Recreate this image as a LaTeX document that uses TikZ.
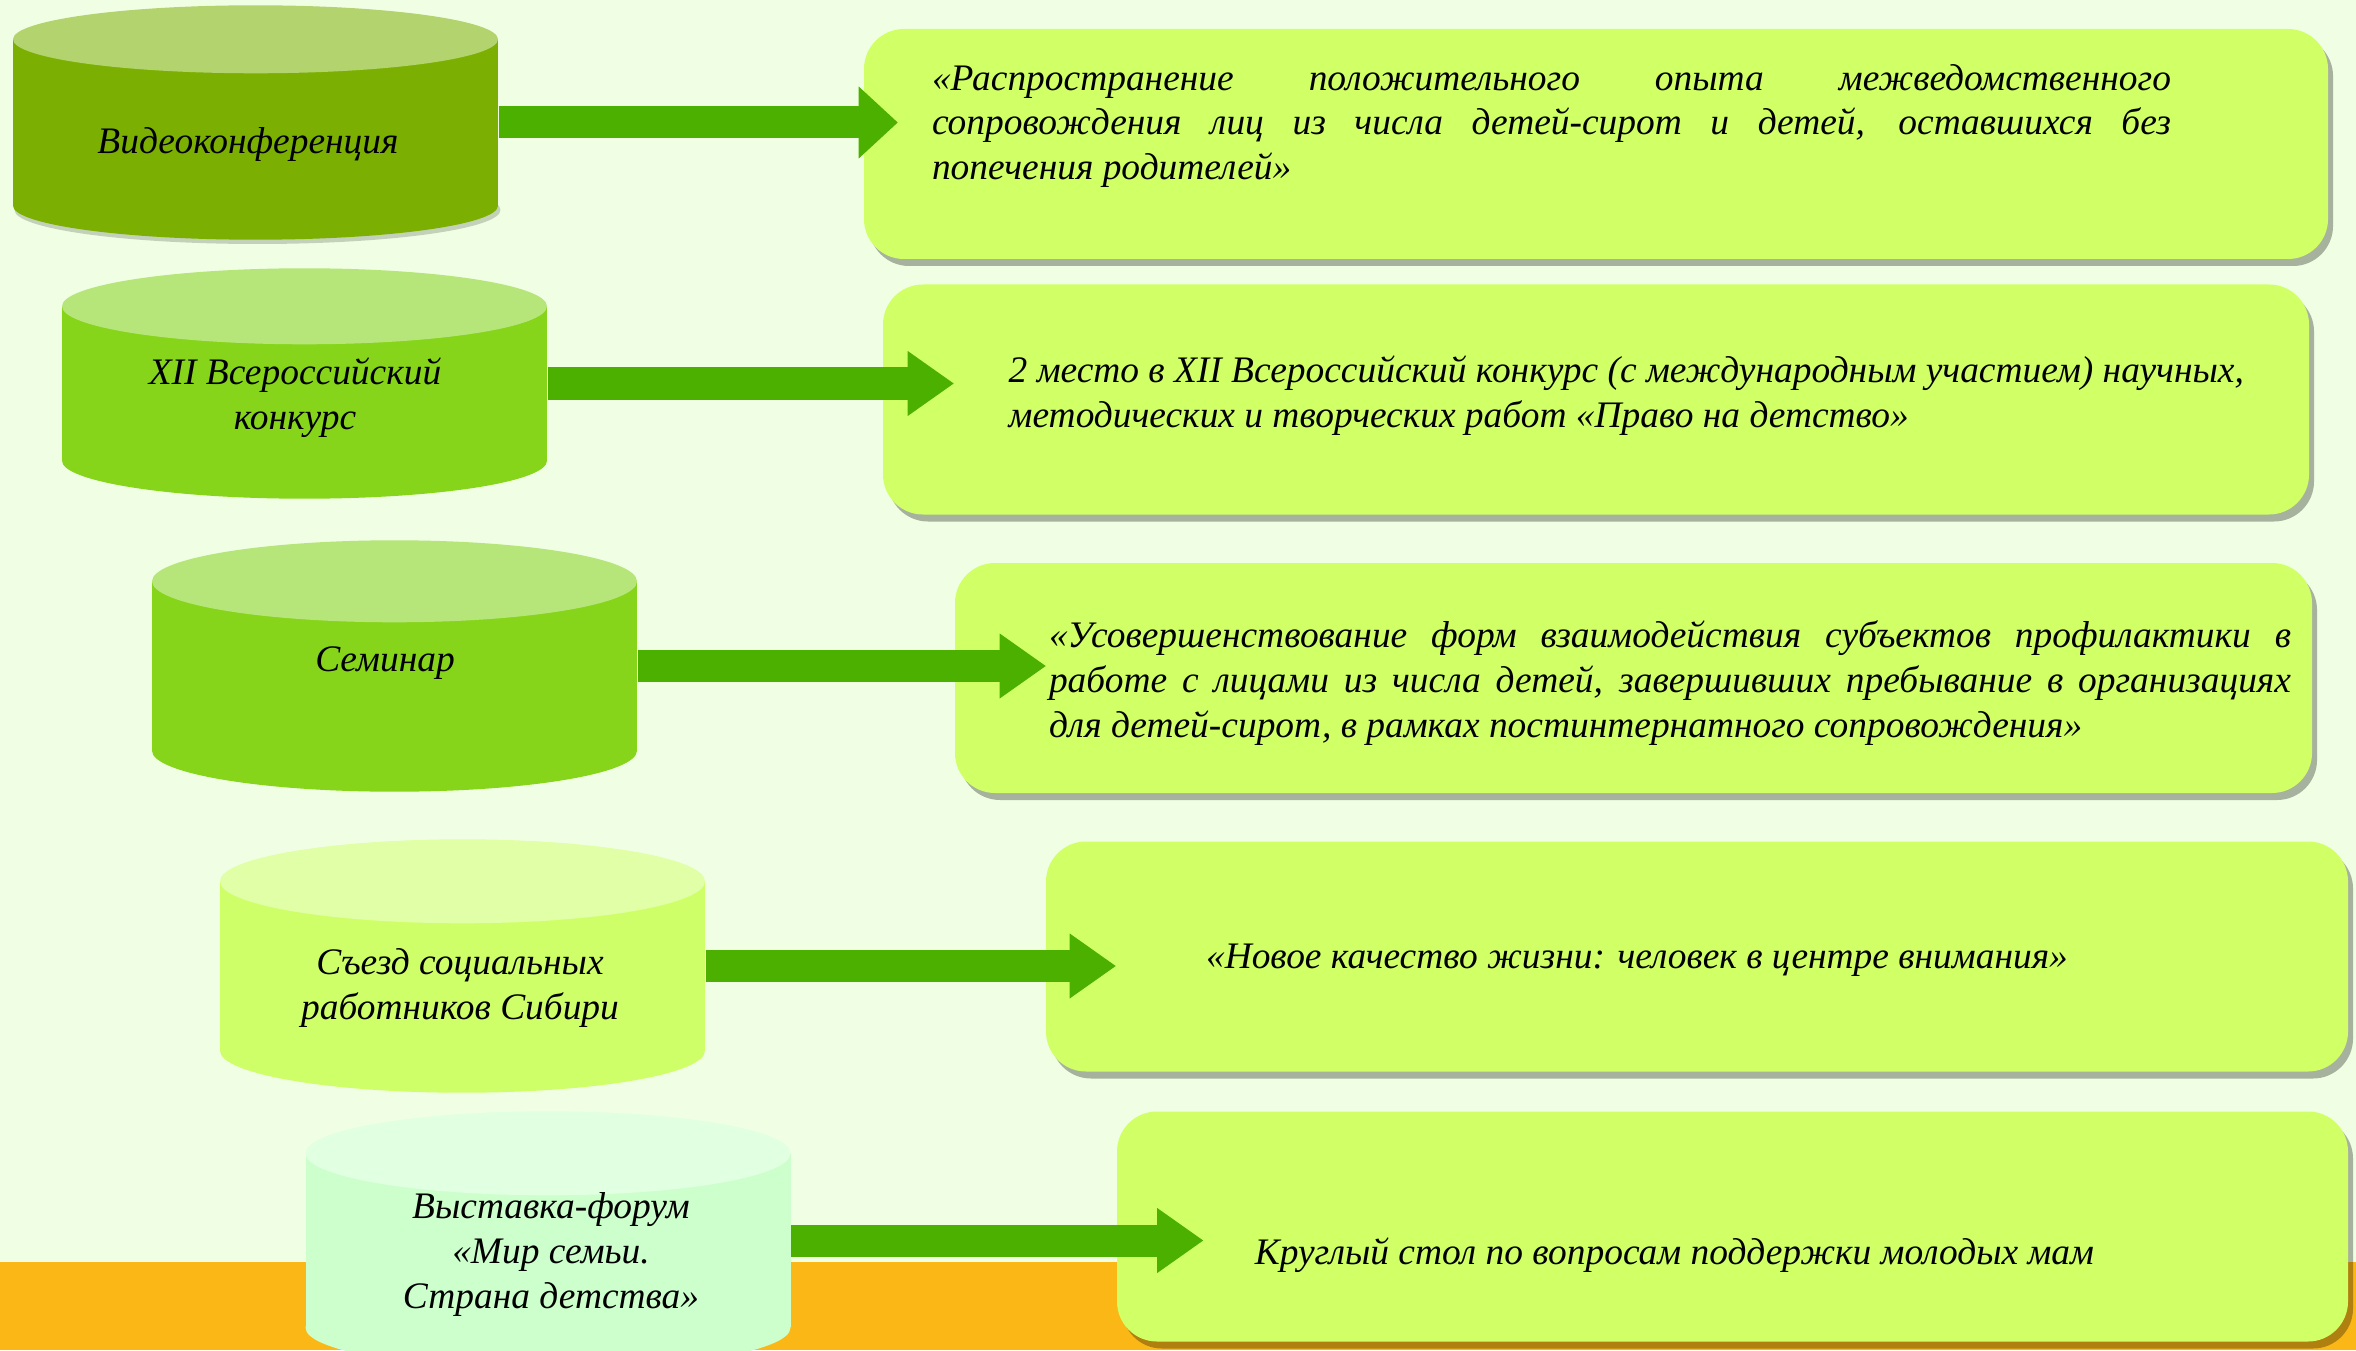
\documentclass[tikz,border=0pt]{standalone}
\usepackage{fontspec}
\setmainfont{Liberation Serif}
\usepackage{xcolor}
\definecolor{bgcream}{RGB}{240,255,227}
\definecolor{bandorange}{RGB}{251,183,22}
\definecolor{boxlime}{RGB}{208,255,102}
\definecolor{flowgreen}{RGB}{76,176,0}
\definecolor{cylolive}{RGB}{123,176,2}
\definecolor{cylolivetop}{RGB}{178,211,109}
\definecolor{cylgreen}{RGB}{134,213,27}
\definecolor{cylgreentop}{RGB}{182,230,122}
\definecolor{cyllime}{RGB}{207,255,104}
\definecolor{cyllimetop}{RGB}{224,255,166}
\definecolor{cylmint}{RGB}{204,255,204}
\definecolor{cylminttop}{RGB}{225,255,225}
\usetikzlibrary{arrows.meta,positioning,calc,shadows}
\tikzset{
  cylbody/.style={fill=#1, inner sep=0pt, minimum width=4.85cm},
  infobox/.style={fill=boxlime, rounded corners=0.4cm, minimum height=2.3cm, inner sep=0pt,
                  drop shadow={shadow xshift=0.05cm, shadow yshift=-0.07cm, fill=black, opacity=0.3}},
  cyltext/.style={font=\itshape\fontsize{10.65}{12.8}\selectfont, align=center, inner sep=0pt},
  boxtext/.style={font=\itshape\fontsize{10.65}{12.8}\selectfont, inner sep=0pt},
  flow/.style={draw=flowgreen, line width=0.32cm,
               -{Triangle[length=0.46cm, width=0.65cm, line width=0pt]}},
}
\begin{document}
\begin{tikzpicture}
\useasboundingbox (0,0) rectangle (23.56,13.5);

% --- Background ---
\fill[bgcream] (0,0) rectangle (23.56,13.5);
\fill[bandorange] (0,0) rectangle (23.56,0.88);

% --- Result boxes ---
\node[infobox, minimum width=14.64cm] (box-video) at (15.96,12.06) {};
\node[infobox, minimum width=14.26cm] (box-contest) at (15.96,9.505) {};
\node[infobox, minimum width=13.57cm] (box-seminar) at (16.335,6.72) {};
\node[infobox, minimum width=13.02cm] (box-congress) at (16.97,3.935) {};
\node[infobox, minimum width=12.31cm] (box-forum) at (17.325,1.235) {};

% --- Cylinder 1: video conference ---
\fill[black, opacity=0.18] (2.575,11.4) ellipse [x radius=2.43, y radius=0.34];
\node[cylbody=cylolive, minimum height=1.65cm] (cyl-video) at (2.555,12.275) {};
\fill[cylolive] (cyl-video.south) ellipse [x radius=2.425, y radius=0.34];
\fill[cylolivetop] (cyl-video.north) ellipse [x radius=2.425, y radius=0.34];

% --- Cylinder 2: contest ---
\node[cylbody=cylgreen, minimum height=1.53cm] (cyl-contest) at (3.045,9.665) {};
\fill[cylgreen] (cyl-contest.south) ellipse [x radius=2.425, y radius=0.38];
\fill[cylgreentop] (cyl-contest.north) ellipse [x radius=2.425, y radius=0.38];

% --- Cylinder 3: seminar ---
\node[cylbody=cylgreen, minimum height=1.68cm] (cyl-seminar) at (3.945,6.84) {};
\fill[cylgreen] (cyl-seminar.south) ellipse [x radius=2.425, y radius=0.41];
\fill[cylgreentop] (cyl-seminar.north) ellipse [x radius=2.425, y radius=0.41];

% --- Cylinder 4: congress ---
\node[cylbody=cyllime, minimum height=1.68cm] (cyl-congress) at (4.625,3.84) {};
\fill[cyllime] (cyl-congress.south) ellipse [x radius=2.425, y radius=0.42];
\fill[cyllimetop] (cyl-congress.north) ellipse [x radius=2.425, y radius=0.42];

% --- Cylinder 5: forum ---
\node[cylbody=cylmint, minimum height=1.73cm] (cyl-forum) at (5.48,1.095) {};
\fill[cylmint] (cyl-forum.south) ellipse [x radius=2.425, y radius=0.42];
\fill[cylminttop] (cyl-forum.north) ellipse [x radius=2.425, y radius=0.42];

% Cylinder labels
\node[cyltext] (txt-video) at (2.48,12.055) {Видеоконференция};
\node[cyltext] (txt-contest) at (2.95,9.52) {XII Всероссийский\\конкурс};
\node[cyltext] (txt-seminar) at (3.85,6.865) {Семинар};
\node[cyltext] (txt-congress) at (4.60,3.62) {Съезд социальных\\работников Сибири};
\node[cyltext] (txt-forum) at (5.51,0.955) {Выставка-форум\\«Мир семьи.\\Страна детства»};

% Box texts
\node[boxtext, text width=12.39cm, align=justify] (btxt-video) at (15.515,12.24)
  {«Распространение положительного опыта межведомственного\linebreak
   сопровождения лиц из числа детей-сирот и детей, оставшихся без\linebreak
   попечения родителей»};
\node[boxtext, align=left, anchor=west] (btxt-contest) at (10.08,9.545)
  {2 место в XII Всероссийский конкурс (с международным участием) научных,\\
   методических и творческих работ «Право на детство»};
\node[boxtext, text width=12.42cm, align=justify] (btxt-seminar) at (16.70,6.67)
  {«Усовершенствование форм взаимодействия субъектов профилактики в\linebreak
   работе с лицами из числа детей, завершивших пребывание в организациях\linebreak
   для детей-сирот, в рамках постинтернатного сопровождения»};
\node[boxtext] (btxt-congress) at (16.37,3.895) {«Новое качество жизни: человек в центре внимания»};
\node[boxtext] (btxt-forum) at (16.745,0.945) {Круглый стол по вопросам поддержки молодых мам};

% --- Arrows ---
\coordinate[right=3.99cm of cyl-video.east] (tip-video);
\coordinate[right=4.06cm of cyl-contest.east] (tip-contest);
\coordinate[right=4.08cm of cyl-seminar.east] (tip-seminar);
\coordinate[right=4.10cm of cyl-congress.east] (tip-congress);
\coordinate[right=4.12cm of cyl-forum.east] (tip-forum);
\draw[flow, -{Triangle[length=0.39cm, width=0.72cm, line width=0pt]}] (cyl-video.east) -- (tip-video);
\draw[flow] (cyl-contest.east) -- (tip-contest);
\draw[flow] (cyl-seminar.east) -- (tip-seminar);
\draw[flow] (cyl-congress.east) -- (tip-congress);
\draw[flow] (cyl-forum.east) -- (tip-forum);

\end{tikzpicture}
\end{document}
